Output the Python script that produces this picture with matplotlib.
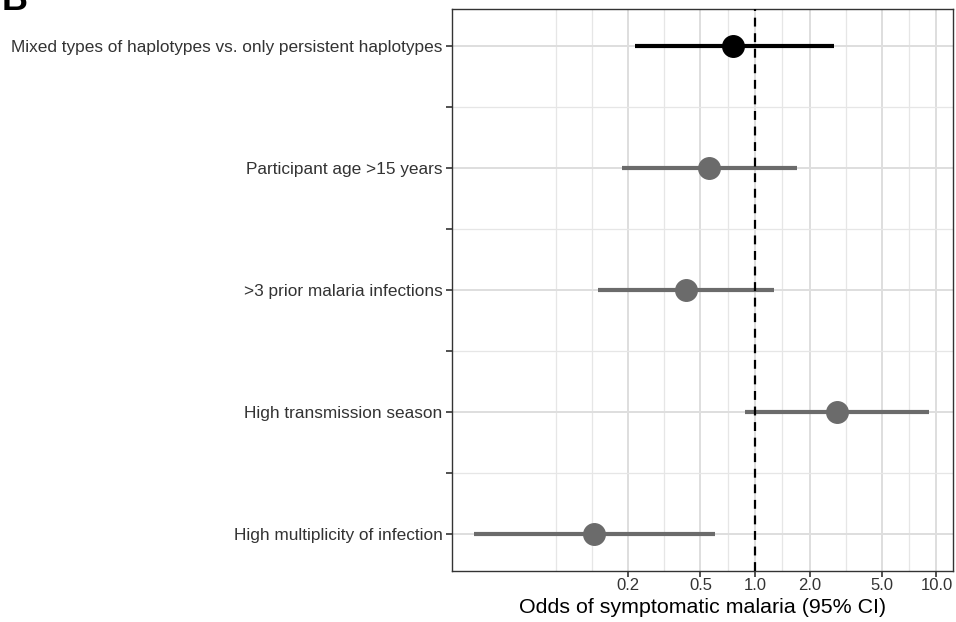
import numpy as np
import matplotlib
matplotlib.use("Agg")
import matplotlib.pyplot as plt
from matplotlib.ticker import FixedLocator, NullFormatter

plt.rcParams['font.family'] = ['Liberation Sans', 'DejaVu Sans']

# Datos (odds ratio e IC 95%)
variables = [
    "Mixed types of haplotypes vs. only persistent haplotypes",
    "Participant age >15 years",
    ">3 prior malaria infections",
    "High transmission season",
    "High multiplicity of infection",
]
odds = [0.76, 0.558, 0.416, 2.84, 0.130]
ic_inf = [0.217, 0.185, 0.1355, 0.885, 0.0282]
ic_sup = [2.74, 1.70, 1.27, 9.14, 0.605]
colores = ["black", "#6b6b6b", "#6b6b6b", "#6b6b6b", "#6b6b6b"]

ticks_x = [0.2, 0.5, 1.0, 2.0, 5.0, 10.0]
etiquetas_x = ["0.2", "0.5", "1.0", "2.0", "5.0", "10.0"]
minor_x = [0.08, 0.1265, 0.3162, 0.7071, 1.4142, 3.1623, 7.0711]

fig = plt.figure(figsize=(9.56, 6.22), dpi=100)
ax = fig.add_axes([0.4725, 0.0825, 0.5241, 0.903])

pos = np.arange(len(variables))
for y, o, lo, hi, c in zip(pos, odds, ic_inf, ic_sup, colores):
    ax.plot([lo, hi], [y, y], color=c, lw=3.0, solid_capstyle='butt', zorder=3)
    ax.plot(o, y, 'o', color=c, ms=15.5, zorder=4)

ax.axvline(1.0, color='black', lw=1.6, ls=(0, (4, 3)), zorder=5)

ax.set_xscale('log')
ax.set_xlim(0.0213, 12.3)
ax.set_ylim(len(variables) - 1 + 0.3, -0.3)

ax.xaxis.set_major_locator(FixedLocator(ticks_x))
ax.set_xticklabels(etiquetas_x)
ax.xaxis.set_minor_locator(FixedLocator(minor_x))
ax.xaxis.set_minor_formatter(NullFormatter())

ax.set_yticks(pos)
ax.set_yticklabels(variables)
ax.set_yticks(pos[:-1] + 0.5, minor=True)

ax.grid(True, which='major', color='#dedede', lw=1.4, zorder=0)
ax.grid(True, which='minor', color='#e6e6e6', lw=0.9, zorder=0)
ax.set_axisbelow(True)

ax.tick_params(axis='both', which='both', length=4, width=1.2, color='#333333',
               labelcolor='#333333')
ax.tick_params(axis='x', which='major', labelsize=12, pad=1.2)
ax.tick_params(axis='y', which='major', labelsize=12.4, pad=2.5)
ax.tick_params(axis='x', which='minor', length=0)
ax.tick_params(axis='y', which='minor', length=4, width=1.2, color='#333333')

for s in ax.spines.values():
    s.set_color('#333333')
    s.set_linewidth(1.0)

ax.set_xlabel('Odds of symptomatic malaria (95% CI)', fontsize=15.4, labelpad=4)

fig.text(0.002, 1.0, 'B', fontsize=26, fontweight='bold', va='center', ha='left')

fig.savefig('out.png', dpi=100)
